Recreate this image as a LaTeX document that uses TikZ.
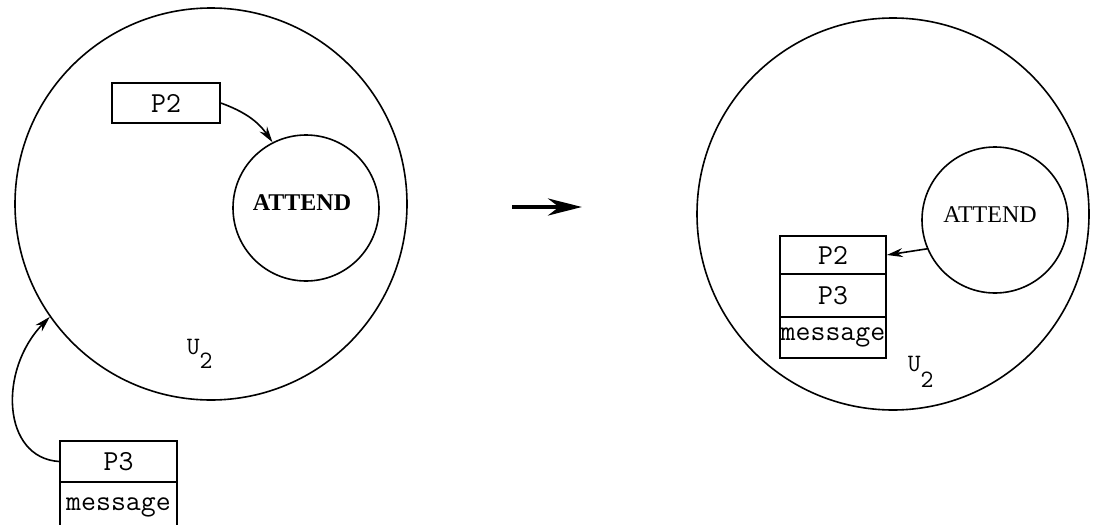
\documentclass[tikz,border=0pt]{standalone}
\usepackage{fontspec}
\setmainfont{Liberation Serif}
\usetikzlibrary{arrows.meta}
\begin{document}
\begin{tikzpicture}[x=1pt,y=-1pt,line width=1.6pt,
  bigc/.style={draw,circle,minimum size=392pt,inner sep=0pt},
  smallc/.style={draw,circle,minimum size=146pt,inner sep=0pt},
  cell/.style={draw,rectangle,inner sep=0pt,font=\ttfamily\fontsize{29}{29}\selectfont},
  lbl/.style={inner sep=0pt,font=\ttfamily\fontsize{25}{25}\selectfont},
  tip/.style={-{Stealth[length=16pt,width=9pt]}}]
\useasboundingbox (0,0) rectangle (1093,525);
\clip (0,0) rectangle (1093,525);
% left scene
\node[bigc] (L) at (211,204) {};
\node[smallc] (LA) at (306,208) {};
\node[font=\bfseries\fontsize{24}{24}\selectfont] (LAt) at (302,203) {ATTEND};
\node[cell,minimum width=108pt,minimum height=40pt] (LP2) at (166,103) {P2};
\node[cell,minimum width=117pt,minimum height=41pt] (LP3) at (118.5,461.5) {P3};
\node[cell,minimum width=117pt,minimum height=50pt] (LM) at (118.5,507) {message};
\node[lbl,anchor=base west] (LU) at (186,354) {U\raisebox{-14pt}{2}};
\draw[tip] (LP2.east) to[out=-20,in=125] (LA.117.6);
\draw[tip] (LP3.west) .. controls (2,458) and (-2,370) .. (L.215.6);
% middle arrow
\coordinate (ma) at (512,207);
\coordinate (mb) at (582,207);
\draw[line width=4.5pt,-{Stealth[length=34pt,width=17pt]}] (ma) -- (mb);
% right scene
\node[bigc] (R) at (893,214) {};
\node[smallc] (RA) at (995,220) {};
\node[font=\fontsize{24}{24}\selectfont] (RAt) at (990,214.5) {ATTEND};
\node[cell,minimum width=106pt,minimum height=38pt] (R2) at (833,255) {P2};
\node[cell,minimum width=106pt,minimum height=43pt] (R3) at (833,295.5) {P3};
\node[cell,minimum width=106pt,minimum height=41pt] (RM) at (833,337.5) {message};
\node[lbl,anchor=base west] (RU) at (907,371) {U\raisebox{-16pt}{2}};
\draw[tip] (RA.203) -- (R2.east);
\end{tikzpicture}
\end{document}
